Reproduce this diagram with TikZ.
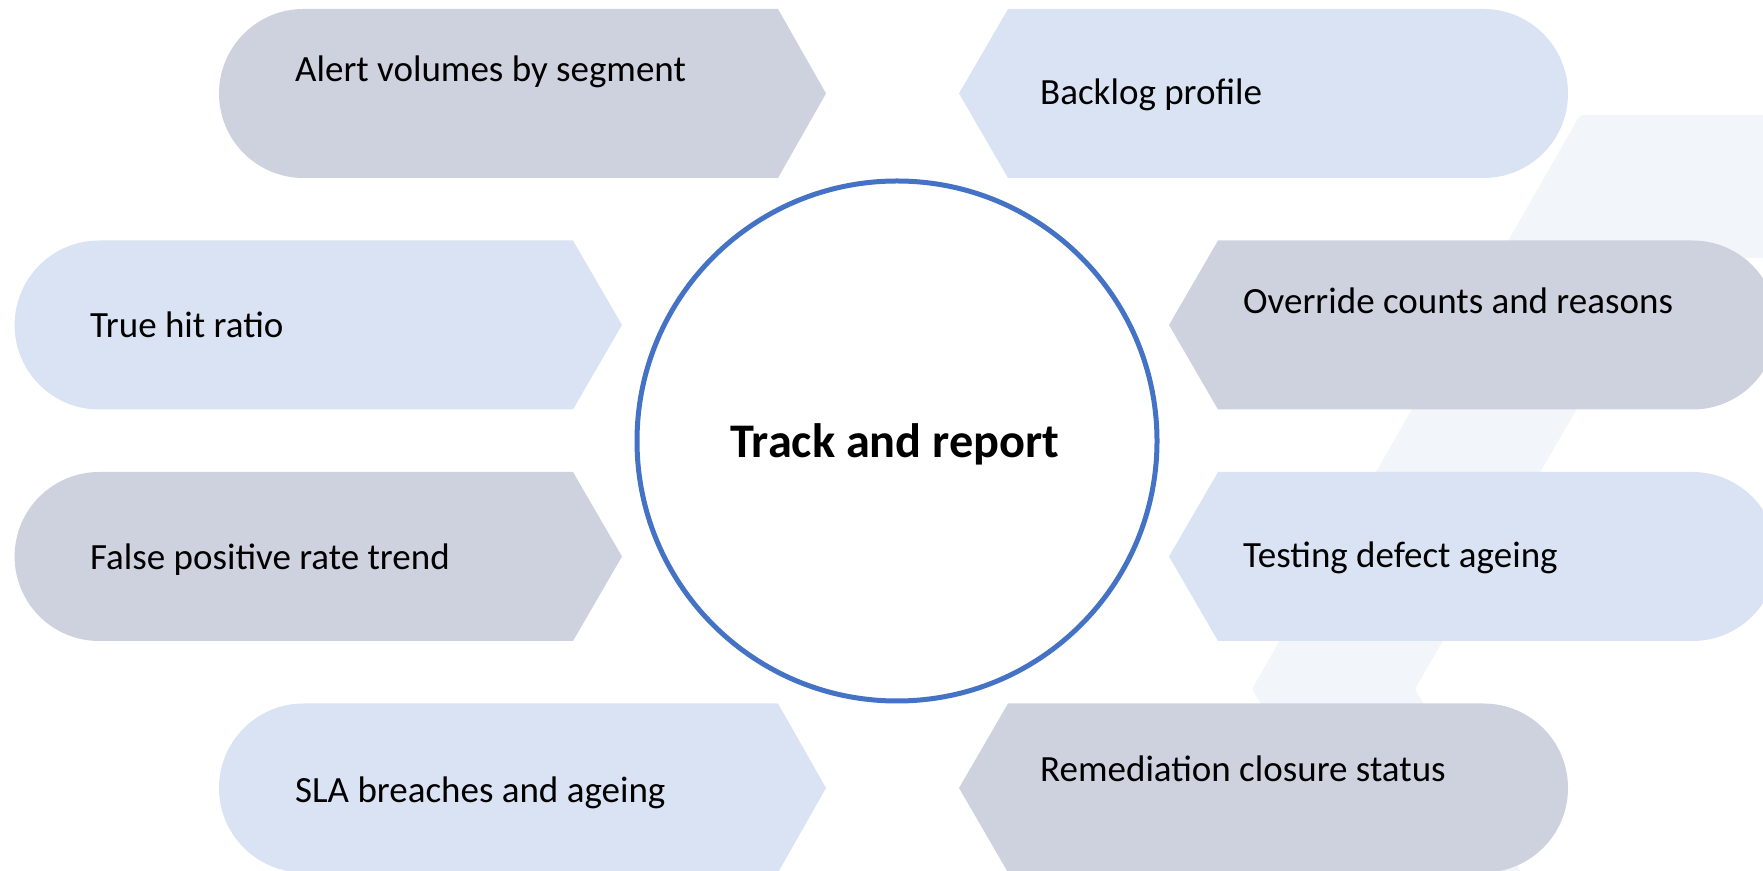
\documentclass[tikz,border=0pt]{standalone}
\usepackage{fontspec}
\setmainfont{Carlito}

\definecolor{pilldark}{HTML}{CED2DF}
\definecolor{pilllight}{HTML}{DAE3F3}
\definecolor{backband}{HTML}{F2F5F9}
\definecolor{ringblue}{HTML}{4472C4}

% rounded end on the left, point on the right: left edge, shoulder, tip, centre height, colour
\newcommand{\leftpill}[5]{%
  \fill[#5] ({#1+84.5},{#4+84.5}) -- (#2,{#4+84.5}) -- (#3,#4) -- (#2,{#4-84.5})
    -- ({#1+84.5},{#4-84.5}) arc[start angle=-90,end angle=-270,radius=84.5pt] -- cycle;}
% point on the left, rounded end on the right: tip, shoulder, right edge, centre height, colour
\newcommand{\rightpill}[5]{%
  \fill[#5] (#1,#4) -- (#2,{#4+84.5}) -- ({#3-84.5},{#4+84.5})
    arc[start angle=90,end angle=-90,radius=84.5pt] -- (#2,{#4-84.5}) -- cycle;}

\begin{document}
\begin{tikzpicture}[x=1pt,y=1pt,
  itemtext/.style={anchor=base west, inner sep=0pt, text=black,
    font=\fontsize{37}{44}\selectfont}]
\useasboundingbox (0,0) rectangle (1763,870);
\clip (0,0) rectangle (1763,870);

% faint background band
\fill[backband, rounded corners=3pt] (1580,755) -- (1800,755) -- (1800,612) -- (1664,612)
  -- (1415,181) -- (1537,-30) -- (1374,-30) -- (1252,181) -- cycle;

% left column
\leftpill{219}{778}{826}{776.5}{pilldark}
\leftpill{14.6}{573}{622}{545}{pilllight}
\leftpill{14.6}{573}{622}{313.5}{pilldark}
\leftpill{219}{778}{826}{82}{pilllight}

% right column
\rightpill{959}{1008}{1568}{776.5}{pilllight}
\rightpill{1169}{1218}{1777}{545}{pilldark}
\rightpill{1169}{1218}{1777}{313.5}{pilllight}
\rightpill{959}{1008}{1568}{82}{pilldark}

% central ring
\node[circle, draw=ringblue, line width=5pt, fill=white, minimum size=520pt,
  inner sep=0pt] (hub) at (897,429) {};
\node[anchor=base, inner sep=0pt, text=black,
  font=\bfseries\fontsize{48.3}{58}\selectfont] (hubtext) at (895,412.5) {Track and report};

% item labels
\node[itemtext] (alerts)   at (295,788)  {Alert volumes by segment};
\node[itemtext] (backlog)  at (1040,765) {Backlog profile};
\node[itemtext] (truehit)  at (90,532)   {True hit ratio};
\node[itemtext] (falsepos) at (90,300)   {False positive rate trend};
\node[itemtext] (sla)      at (295,68)   {SLA breaches and ageing};
\node[itemtext] (override) at (1243,556) {Override counts and reasons};
\node[itemtext] (defect)   at (1243,302) {Testing defect ageing};
\node[itemtext] (remed)    at (1040,89)  {Remediation closure status};
\end{tikzpicture}
\end{document}
